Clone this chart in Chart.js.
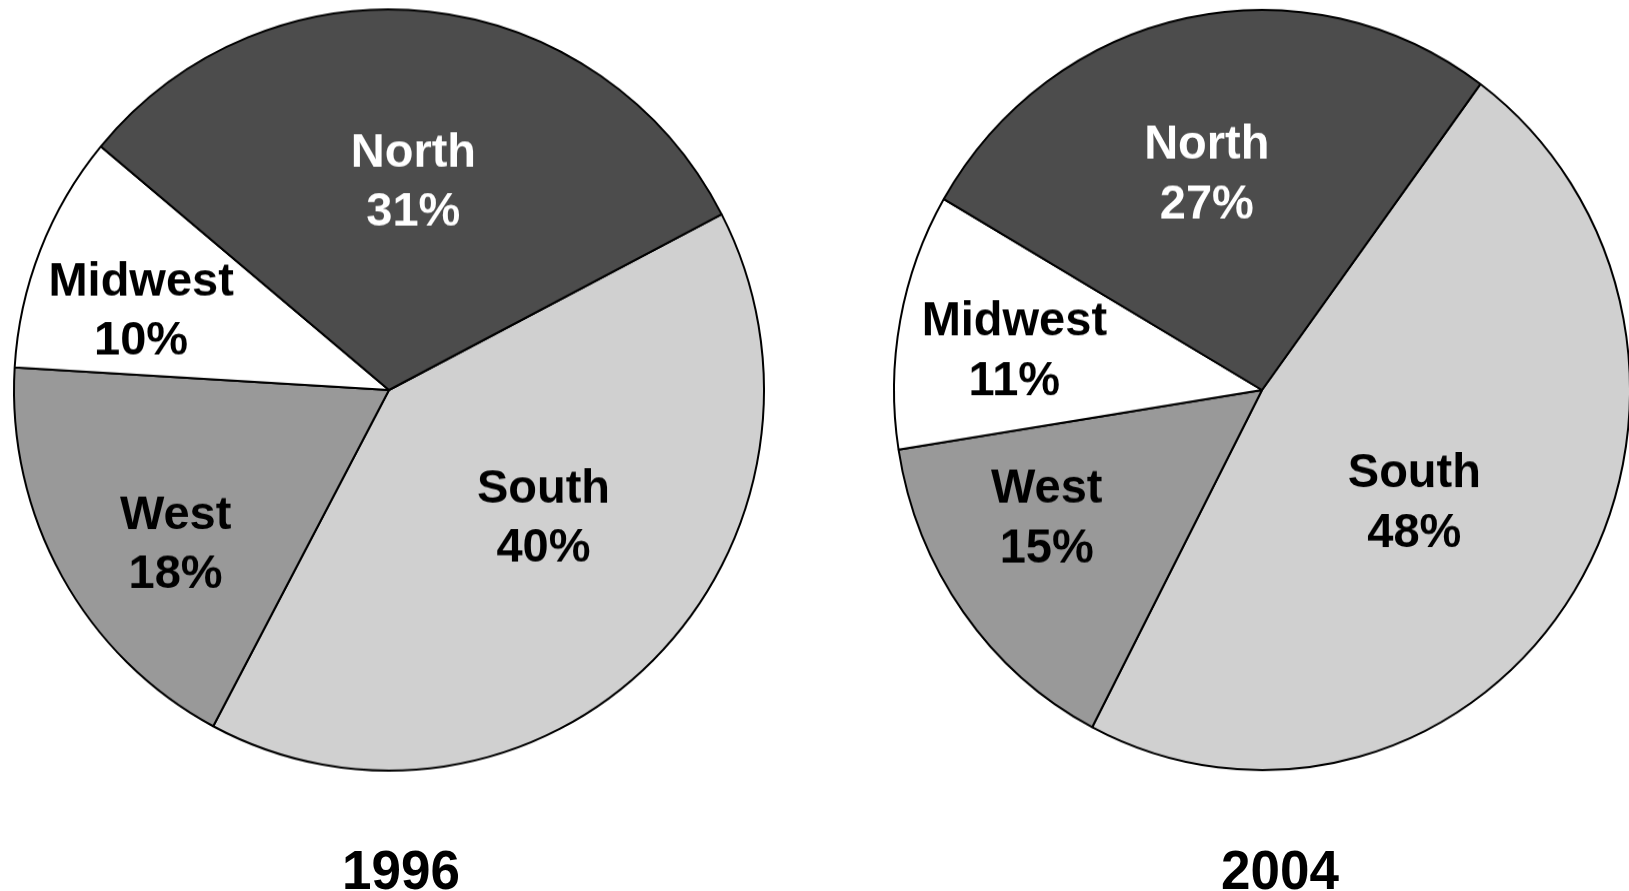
<!DOCTYPE html>
<html>
<head>
<meta charset="utf-8">
<script src="https://cdn.jsdelivr.net/npm/chart.js@4/dist/chart.umd.min.js"></script>
<style>
    html, body {
        margin: 0;
        padding: 0;
        width: 1629px;
        height: 891px;
        overflow: hidden;
        background: #ffffff;
    }
    .pie-box {
        position: absolute;
        top: 10px;
        width: 760px;
        height: 760px;
        transform-origin: 50% 50%;
    }
    .year {
        position: absolute;
        top: 840px;
        width: 300px;
        text-align: center;
        font-family: "Liberation Sans", Arial, sans-serif;
        font-weight: bold;
        font-size: 53px;
        line-height: 60px;
        color: #000000;
        transform: scaleY(1.05);
    }
</style>
</head>
<body>
<div class="pie-box" id="box1996" style="left: 9px; transform: scaleY(1.015);"><canvas id="pie1996"></canvas></div>
<div class="pie-box" id="box2004" style="left: 882px; transform: scaleY(1.033);"><canvas id="pie2004"></canvas></div>
<div class="year" id="year1996" style="left: 251px;"></div>
<div class="year" id="year2004" style="left: 1130px;"></div>

<script>
var regions = ['South', 'West', 'Midwest', 'North'];
var share1996 = [40, 18, 10, 31];
var share2004 = [48, 15, 11, 27];
var years = ['1996', '2004'];

var fills = ['#d0d0d0', '#999999', '#ffffff', '#4c4c4c'];
var textColors = ['#000000', '#000000', '#000000', '#ffffff'];
var font_size = 47;

// label centres, as fractions of the radius from the pie centre
var labelSpots1996 = [[0.412, 0.332], [-0.569, 0.40], [-0.661, -0.214], [0.065, -0.552]];
var labelSpots2004 = [[0.414, 0.292], [-0.585, 0.333], [-0.673, -0.108], [-0.150, -0.572]];

var sliceLabels = {
    id: 'sliceLabels',
    afterDatasetsDraw: function (chart, args, opts) {
        var ctx = chart.ctx;
        var meta = chart.getDatasetMeta(0);
        var values = chart.data.datasets[0].data;
        ctx.save();
        ctx.font = 'bold ' + font_size + 'px "Liberation Sans", Arial, sans-serif';
        ctx.textAlign = 'center';
        ctx.textBaseline = 'middle';
        for (var i = 0; i < meta.data.length; i++) {
            var arc = meta.data[i];
            var r = arc.outerRadius;
            var x = arc.x + opts.spots[i][0] * r;
            var y = arc.y + opts.spots[i][1] * r + 3;
            ctx.fillStyle = textColors[i];
            ctx.fillText(chart.data.labels[i], x, y - 29);
            ctx.fillText(values[i] + '%', x, y + 29);
        }
        ctx.restore();
    }
};

function make_pie(canvasId, values, rotation, radius, spots) {
    var ctx = document.getElementById(canvasId).getContext('2d');
    var chartConfig = {
        type: 'pie',
        data: {
            labels: regions,
            datasets: [{
                data: values,
                backgroundColor: fills,
                borderColor: '#000000',
                borderWidth: 2,
                radius: radius
            }]
        },
        options: {
            responsive: true,
            maintainAspectRatio: false,
            animation: false,
            rotation: rotation,
            layout: { padding: 0 },
            plugins: {
                legend: { display: false },
                tooltip: { enabled: false },
                sliceLabels: { spots: spots }
            }
        },
        plugins: [sliceLabels]
    };
    return new Chart(ctx, chartConfig);
}

make_pie('pie1996', share1996, 62.5, 375, labelSpots1996);
make_pie('pie2004', share2004, 36.4, 368, labelSpots2004);

document.getElementById('year1996').textContent = years[0];
document.getElementById('year2004').textContent = years[1];
</script>
</body>
</html>
